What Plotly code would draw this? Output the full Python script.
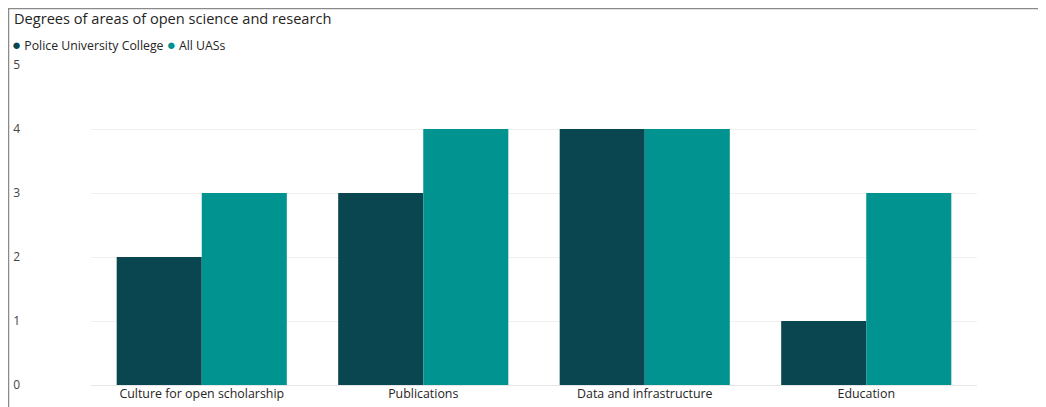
import plotly.graph_objects as go

categories = ["Culture for open scholarship", "Publications", "Data and infrastructure", "Education"]
police_values = [2, 3, 4, 1]
all_uas_values = [3, 4, 4, 3]
series_names = ["Police University College", "All UASs"]
y_ticks = [0, 1, 2, 3, 4, 5]

c_dark = "#094650"
c_teal = "#00938F"
font_family = "Open Sans, Noto Sans, sans-serif"

fig = go.Figure()
fig.add_trace(go.Bar(x=categories, y=police_values, name=series_names[0],
                     marker=dict(color=c_dark, line=dict(width=0)), showlegend=False))
fig.add_trace(go.Bar(x=categories, y=all_uas_values, name=series_names[1],
                     marker=dict(color=c_teal, line=dict(width=0)), showlegend=False))

# page body adds an 8px offset, figure sized accordingly
W, H = 1038, 399
ml, mr, mt, mb = 83, 69, 57, 22
pw, ph = W - ml - mr, H - mt - mb

def px_x(p):
    return (p - ml) / pw

def px_y(p):
    return 1 - (p - mt) / ph

fig.update_layout(
    width=W, height=H,
    margin=dict(l=ml, r=mr, t=mt, b=mb, autoexpand=False),
    paper_bgcolor="white", plot_bgcolor="white",
    barmode="group", bargap=0.232, bargroupgap=0,
    font=dict(family=font_family, size=12, color="#252423"),
    xaxis=dict(showgrid=False, showline=False, zeroline=False, ticks="",
               tickfont=dict(size=12.4, color="#252423")),
    yaxis=dict(range=[0, 5.002], tickvals=y_ticks, showgrid=True, gridcolor="#F0F0F0",
               gridwidth=1, zeroline=True, zerolinecolor="#E6E6E6", zerolinewidth=1,
               showline=False, ticks="", ticklabelstandoff=70,
               tickfont=dict(size=12, color="#444444")),
    annotations=[
        dict(text="Degrees of areas of open science and research", xref="paper", yref="paper",
             x=px_x(4), y=px_y(10), xanchor="left", yanchor="middle", showarrow=False,
             font=dict(size=14.6, color="#252423")),
        dict(text=f"<span style='color:{c_dark};font-size:15px'>●</span> {series_names[0]} "
                  f"<span style='color:{c_teal};font-size:15px'>●</span> {series_names[1]}",
             xref="paper", yref="paper", x=px_x(2), y=px_y(36), xanchor="left",
             yanchor="middle", showarrow=False, font=dict(size=12.3, color="#252423")),
    ],
    shapes=[
        dict(type="line", xref="paper", yref="paper", x0=px_x(0), x1=px_x(W + 5),
             y0=px_y(0.5), y1=px_y(0.5), line=dict(color="#8A8A8A", width=1.5)),
        dict(type="line", xref="paper", yref="paper", x0=px_x(0.5), x1=px_x(0.5),
             y0=px_y(0), y1=px_y(H + 5), line=dict(color="#8A8A8A", width=1.5)),
    ],
)

fig.write_html("out.html")
